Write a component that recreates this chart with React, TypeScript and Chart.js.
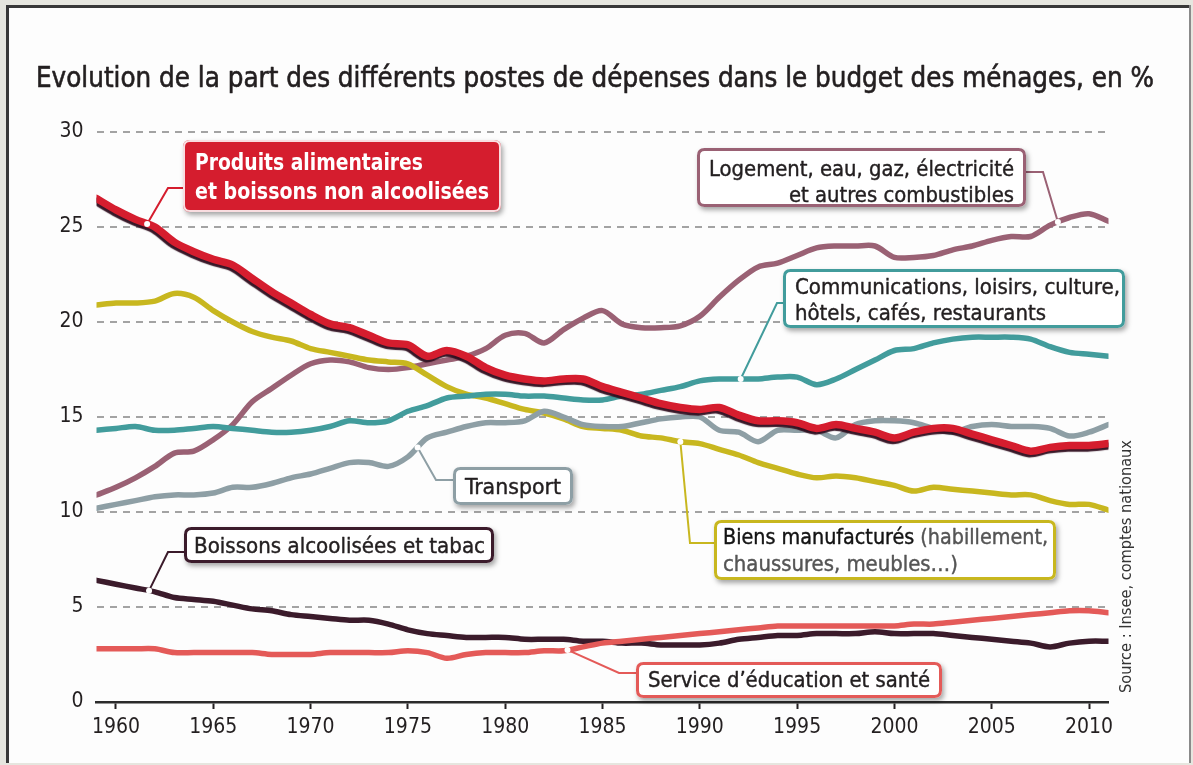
import React, { useEffect, useRef } from "react";
import { Chart, registerables } from "chart.js";

Chart.register(...registerables);

// ---------------- DATA ----------------
const YEARS = [
  1959, 1960, 1961, 1962, 1963, 1964, 1965, 1966, 1967, 1968, 1969, 1970, 1971, 1972, 1973, 1974, 1975, 1976,
  1977, 1978, 1979, 1980, 1981, 1982, 1983, 1984, 1985, 1986, 1987, 1988, 1989, 1990, 1991, 1992, 1993, 1994,
  1995, 1996, 1997, 1998, 1999, 2000, 2001, 2002, 2003, 2004, 2005, 2006, 2007, 2008, 2009, 2010, 2011,
];

const ALIMENTAIRES = [
  26.5, 25.9, 25.4, 25.0, 24.2, 23.7, 23.3, 23.0, 22.3, 21.6, 21.0, 20.4, 19.9, 19.7, 19.3, 18.9, 18.8, 18.2,
  18.5, 18.2, 17.6, 17.2, 17.0, 16.9, 17.0, 17.0, 16.6, 16.3, 16.0, 15.7, 15.5, 15.4, 15.5, 15.1, 14.8, 14.8,
  14.7, 14.4, 14.6, 14.4, 14.2, 13.9, 14.2, 14.4, 14.4, 14.1, 13.8, 13.5, 13.2, 13.4, 13.5, 13.5, 13.6,
];

const LOGEMENT = [
  10.9, 11.3, 11.8, 12.4, 13.1, 13.2, 13.8, 14.6, 15.8, 16.5, 17.2, 17.8, 18.0, 17.9, 17.6, 17.5, 17.6, 17.8,
  18.0, 18.2, 18.6, 19.3, 19.4, 18.9, 19.6, 20.2, 20.6, 19.9, 19.7, 19.7, 19.8, 20.3, 21.3, 22.2, 22.9, 23.1,
  23.5, 23.9, 24.0, 24.0, 24.0, 23.4, 23.4, 23.5, 23.8, 24.0, 24.3, 24.5, 24.5, 25.1, 25.5, 25.7, 25.3,
];

const COMMUNICATIONS = [
  14.3, 14.4, 14.5, 14.3, 14.3, 14.4, 14.5, 14.4, 14.3, 14.2, 14.2, 14.3, 14.5, 14.8, 14.7, 14.8, 15.3, 15.6,
  16.0, 16.1, 16.2, 16.2, 16.1, 16.1, 16.0, 15.9, 15.9, 16.1, 16.2, 16.4, 16.6, 16.9, 17.0, 17.0, 17.0, 17.1,
  17.1, 16.7, 17.0, 17.5, 18.0, 18.5, 18.6, 18.9, 19.1, 19.2, 19.2, 19.2, 19.1, 18.7, 18.4, 18.3, 18.2,
];

const TRANSPORT = [
  10.2, 10.4, 10.6, 10.8, 10.9, 10.9, 11.0, 11.3, 11.3, 11.5, 11.8, 12.0, 12.3, 12.6, 12.6, 12.4, 12.9, 13.9,
  14.2, 14.5, 14.7, 14.7, 14.8, 15.3, 15.0, 14.6, 14.5, 14.5, 14.7, 14.9, 15.0, 15.0, 14.3, 14.2, 13.7, 14.3,
  14.3, 14.3, 13.9, 14.6, 14.8, 14.8, 14.7, 14.4, 14.2, 14.5, 14.6, 14.5, 14.5, 14.4, 14.0, 14.2, 14.6,
];

const BIENS = [
  20.9, 21.0, 21.0, 21.1, 21.5, 21.3, 20.6, 20.0, 19.5, 19.2, 19.0, 18.6, 18.4, 18.2, 18.0, 17.9, 17.8, 17.2,
  16.6, 16.2, 16.0, 15.7, 15.4, 15.2, 14.9, 14.5, 14.4, 14.3, 14.0, 13.9, 13.7, 13.6, 13.3, 13.0, 12.6, 12.3,
  12.0, 11.8, 11.9, 11.8, 11.6, 11.4, 11.1, 11.3, 11.2, 11.1, 11.0, 10.9, 10.9, 10.6, 10.4, 10.4, 10.1,
];

const ALCOOL_TABAC = [
  6.4, 6.2, 6.0, 5.8, 5.5, 5.4, 5.3, 5.1, 4.9, 4.8, 4.6, 4.5, 4.4, 4.3, 4.3, 4.1, 3.8, 3.6,
  3.5, 3.4, 3.4, 3.4, 3.3, 3.3, 3.3, 3.2, 3.2, 3.1, 3.1, 3.0, 3.0, 3.0, 3.1, 3.3, 3.4, 3.5,
  3.5, 3.6, 3.6, 3.6, 3.7, 3.6, 3.6, 3.6, 3.5, 3.4, 3.3, 3.2, 3.1, 2.9, 3.1, 3.2, 3.2,
];

const EDUCATION_SANTE = [
  2.8, 2.8, 2.8, 2.8, 2.6, 2.6, 2.6, 2.6, 2.6, 2.5, 2.5, 2.5, 2.6, 2.6, 2.6, 2.6, 2.7, 2.6,
  2.3, 2.5, 2.6, 2.6, 2.6, 2.7, 2.7, 2.9, 3.1, 3.2, 3.3, 3.4, 3.5, 3.6, 3.7, 3.8, 3.9, 4.0,
  4.0, 4.0, 4.0, 4.0, 4.0, 4.0, 4.1, 4.1, 4.2, 4.3, 4.4, 4.5, 4.6, 4.7, 4.8, 4.8, 4.7,
];

const X_TICKS = [1960, 1965, 1970, 1975, 1980, 1985, 1990, 1995, 2000, 2005, 2010];
const Y_TICKS = [0, 5, 10, 15, 20, 25, 30];

const TITLE = "Evolution de la part des différents postes de dépenses dans le budget des ménages, en %";
const SOURCE = "Source : Insee, comptes nationaux";

// ---------------- STYLE ----------------
const C_RED = "#d51d2e";
const C_MAUVE = "#9a6174";
const C_TEAL = "#429c9c";
const C_GRAY = "#8e9fa5";
const C_YELLOW = "#c8b71f";
const C_DARK = "#3b1b2b";
const C_SALMON = "#e45a58";
const TXT = "#231f20";
const NARROW = "'Liberation Sans Narrow', 'DejaVu Sans Condensed', Roboto, 'Liberation Sans', sans-serif";

type Ann = {
  data: number[];
  color: string;
  anchorYear: number;
  box: [number, number, number, number];
  elbow: [number, number, number];
  lines: { text: string; parts?: { t: string; bold: boolean; color: string }[]; x: number; y: number; w: number; align?: "left" | "right" }[];
  fill?: string;
  textColor?: string;
  bold?: boolean;
  size: number;
};

const ANNOTATIONS: Ann[] = [
  {
    data: ALIMENTAIRES, color: C_RED, anchorYear: 1961.6,
    box: [183, 140, 318, 72], elbow: [183, 168, 188],
    fill: C_RED, textColor: "#ffffff", bold: true, size: 23,
    lines: [
      { text: "Produits alimentaires", x: 195, y: 170, w: 228 },
      { text: "et boissons non alcoolisées", x: 195, y: 199, w: 294 },
    ],
  },
  {
    data: LOGEMENT, color: C_MAUVE, anchorYear: 2008.4,
    box: [697, 148, 329, 59], elbow: [1026, 1043, 172], size: 21,
    lines: [
      { text: "Logement, eau, gaz, électricité", x: 1014, y: 176, w: 305, align: "right" },
      { text: "et autres combustibles", x: 1014, y: 202, w: 225, align: "right" },
    ],
  },
  {
    data: COMMUNICATIONS, color: C_TEAL, anchorYear: 1992.1,
    box: [783, 269, 342, 59], elbow: [783, 777, 303], size: 21,
    lines: [
      { text: "Communications, loisirs, culture,", x: 795, y: 294, w: 325 },
      { text: "hôtels, cafés, restaurants", x: 795, y: 320, w: 251 },
    ],
  },
  {
    data: TRANSPORT, color: C_GRAY, anchorYear: 1975.5,
    box: [453, 467, 120, 38], elbow: [453, 436, 480], size: 21,
    lines: [{ text: "Transport", x: 465, y: 494, w: 96 }],
  },
  {
    data: ALCOOL_TABAC, color: C_DARK, anchorYear: 1961.7,
    box: [184, 527, 310, 36], elbow: [184, 168, 552], size: 21,
    lines: [{ text: "Boissons alcoolisées et tabac", x: 194, y: 553, w: 291 }],
  },
  {
    data: BIENS, color: C_YELLOW, anchorYear: 1989.0,
    box: [714, 520, 342, 60], elbow: [714, 690, 543], size: 21,
    lines: [
      {
        text: "Biens manufacturés (habillement,", x: 723, y: 544, w: 325,
        parts: [
          { t: "Biens manufacturés", bold: false, color: "#141414" },
          { t: " (habillement,", bold: false, color: "#555555" },
        ],
      },
      { text: "chaussures, meubles…)", x: 723, y: 571, w: 235, parts: [{ t: "chaussures, meubles…)", bold: false, color: "#555555" }] },
    ],
  },
  {
    data: EDUCATION_SANTE, color: C_SALMON, anchorYear: 1983.2,
    box: [636, 662, 306, 36], elbow: [636, 619, 673], size: 21,
    lines: [{ text: "Service d’éducation et santé", x: 648, y: 687, w: 282 }],
  },
];

function interp(data: number[], year: number): number {
  const i = Math.max(0, Math.min(YEARS.length - 2, Math.floor(year - YEARS[0])));
  const t = year - YEARS[i];
  return data[i] + (data[i + 1] - data[i]) * t;
}

function roundRectPath(ctx: CanvasRenderingContext2D, x: number, y: number, w: number, h: number, r: number) {
  ctx.beginPath();
  ctx.moveTo(x + r, y);
  ctx.lineTo(x + w - r, y);
  ctx.quadraticCurveTo(x + w, y, x + w, y + r);
  ctx.lineTo(x + w, y + h - r);
  ctx.quadraticCurveTo(x + w, y + h, x + w - r, y + h);
  ctx.lineTo(x + r, y + h);
  ctx.quadraticCurveTo(x, y + h, x, y + h - r);
  ctx.lineTo(x, y + r);
  ctx.quadraticCurveTo(x, y, x + r, y);
  ctx.closePath();
}

function drawFitted(
  ctx: CanvasRenderingContext2D,
  parts: { t: string; font: string; color: string }[],
  x: number, y: number, targetW: number, align: "left" | "right" = "left", thicken = 0
) {
  ctx.save();
  let total = 0;
  const widths = parts.map((p) => { ctx.font = p.font; const w = ctx.measureText(p.t).width; total += w; return w; });
  const s = targetW / total;
  ctx.translate(align === "right" ? x - targetW : x, y);
  ctx.scale(s, 1);
  ctx.textBaseline = "alphabetic";
  ctx.textAlign = "left";
  let cx = 0;
  parts.forEach((p, i) => {
    ctx.font = p.font;
    ctx.fillStyle = p.color;
    ctx.fillText(p.t, cx, 0);
    if (thicken > 0) {
      ctx.strokeStyle = p.color;
      ctx.lineWidth = thicken;
      ctx.lineJoin = "round";
      ctx.strokeText(p.t, cx, 0);
    }
    cx += widths[i];
  });
  ctx.restore();
}

const framePlugin = {
  id: "frame",
  beforeDraw(chart: any) {
    const ctx: CanvasRenderingContext2D = chart.ctx;
    const W = chart.width, H = chart.height;
    ctx.save();
    ctx.fillStyle = "#e6e6df";
    ctx.fillRect(0, 0, W, H);
    ctx.fillStyle = "#fdfdfd";
    ctx.fillRect(6, 5, W - 10, H - 7);
    ctx.fillStyle = "#383838";
    ctx.fillRect(6, 5, W - 10, 3);
    ctx.fillRect(6, 5, 3, H - 7);
    ctx.fillStyle = "#8a8a8a";
    ctx.fillRect(W - 4, 5, 2, H - 7);
    ctx.fillStyle = "#e6e6df";
    ctx.fillRect(0, H - 2, W, 2);
    drawFitted(ctx, [{ t: TITLE, font: `29px ${NARROW}`, color: TXT }], 36, 87, 1118, "left", 0.6);
    ctx.restore();
  },
};

const shadowPlugin = {
  id: "redShadow",
  beforeDatasetDraw(chart: any, args: any) {
    if (args.index !== 0) return;
    const ctx = chart.ctx;
    ctx.save();
    ctx.shadowColor = "rgba(45,12,28,0.95)";
    ctx.shadowOffsetX = -1.5;
    ctx.shadowOffsetY = 2.5;
    ctx.shadowBlur = 1;
  },
  afterDatasetDraw(chart: any, args: any) {
    if (args.index !== 0) return;
    chart.ctx.restore();
  },
};

const annotationPlugin = {
  id: "annotations",
  afterDatasetsDraw(chart: any) {
    const ctx: CanvasRenderingContext2D = chart.ctx;
    const xs = chart.scales.x, ys = chart.scales.y;
    ANNOTATIONS.forEach((a) => {
      const px = xs.getPixelForValue(a.anchorYear);
      const py = ys.getPixelForValue(interp(a.data, a.anchorYear));
      const [bx, by, bw, bh] = a.box;
      ctx.save();
      ctx.strokeStyle = a.color;
      ctx.lineWidth = 2;
      ctx.beginPath();
      ctx.moveTo(a.elbow[0], a.elbow[2]);
      ctx.lineTo(a.elbow[1], a.elbow[2]);
      ctx.lineTo(px, py);
      ctx.stroke();
      ctx.beginPath();
      ctx.arc(px, py, 3, 0, Math.PI * 2);
      ctx.fillStyle = "#ffffff";
      ctx.fill();
      ctx.restore();
      ctx.save();
      ctx.shadowColor = "rgba(0,0,0,0.35)";
      ctx.shadowBlur = 5;
      ctx.shadowOffsetX = 2;
      ctx.shadowOffsetY = 3;
      roundRectPath(ctx, bx, by, bw, bh, 7);
      ctx.fillStyle = a.fill || "#ffffff";
      ctx.fill();
      ctx.restore();
      ctx.save();
      if (a.fill) {
        roundRectPath(ctx, bx + 1, by + 1, bw - 2, bh - 2, 6);
        ctx.strokeStyle = "rgba(255,255,255,0.85)";
        ctx.lineWidth = 2;
      } else {
        roundRectPath(ctx, bx + 1.5, by + 1.5, bw - 3, bh - 3, 6);
        ctx.strokeStyle = a.color;
        ctx.lineWidth = 3;
      }
      ctx.stroke();
      ctx.restore();
      a.lines.forEach((l) => {
        const parts = l.parts
          ? l.parts.map((p) => ({ t: p.t, font: `${p.bold ? "bold " : ""}${a.size}px ${NARROW}`, color: p.color }))
          : [{ t: l.text, font: `${a.bold ? "bold " : ""}${a.size}px ${NARROW}`, color: a.textColor || TXT }];
        drawFitted(ctx, parts, l.x, l.y, l.w, l.align || "left", a.bold ? 0 : 0.4);
      });
    });
    ctx.save();
    ctx.translate(1131, 693);
    ctx.rotate(-Math.PI / 2);
    drawFitted(ctx, [{ t: SOURCE, font: `15px ${NARROW}`, color: "#333333" }], 0, 0, 253);
    ctx.restore();
  },
};

function line(label: string, data: number[], color: string, width: number, order: number) {
  return {
    label,
    data: YEARS.map((y, i) => ({ x: y, y: data[i] })),
    borderColor: color,
    backgroundColor: color,
    borderWidth: width,
    pointRadius: 0,
    tension: 0.3,
    borderJoinStyle: "round" as const,
    borderCapStyle: "round" as const,
    fill: false,
    order,
  };
}

export default function App() {
  const ref = useRef<HTMLCanvasElement | null>(null);
  useEffect(() => {
    if (!ref.current) return;
    const chart = new Chart(ref.current, {
      type: "line",
      data: {
        datasets: [
          line("Produits alimentaires et boissons non alcoolisées", ALIMENTAIRES, C_RED, 7.5, 0),
          line("Service d'éducation et santé", EDUCATION_SANTE, C_SALMON, 5.5, 1),
          line("Boissons alcoolisées et tabac", ALCOOL_TABAC, C_DARK, 5.5, 2),
          line("Transport", TRANSPORT, C_GRAY, 5.5, 3),
          line("Communications, loisirs, culture, hôtels, cafés, restaurants", COMMUNICATIONS, C_TEAL, 5.5, 4),
          line("Biens manufacturés", BIENS, C_YELLOW, 5.5, 5),
          line("Logement, eau, gaz, électricité et autres combustibles", LOGEMENT, C_MAUVE, 5.5, 6),
        ],
      },
      options: {
        animation: false,
        responsive: false,
        devicePixelRatio: 1,
        layout: { padding: { left: 0, top: 132, right: 84.5, bottom: 0 } },
        plugins: { legend: { display: false }, title: { display: false }, tooltip: { enabled: false } },
        scales: {
          x: {
            type: "linear",
            min: 1959,
            max: 2011,
            afterBuildTicks: (s: any) => { s.ticks = X_TICKS.map((v) => ({ value: v })); },
            afterFit: (s: any) => { s.height = 63; },
            ticks: {
              callback: (v: any) => String(v),
              color: TXT,
              font: { family: NARROW, size: 21 },
              padding: 6,
              maxRotation: 0,
              autoSkip: false,
            },
            grid: { drawOnChartArea: false, drawTicks: true, tickLength: 7, tickColor: TXT, tickWidth: 2, color: TXT },
            border: { display: true, color: "#2b2b2b", width: 2.5 },
          },
          y: {
            min: 0,
            max: 30,
            afterBuildTicks: (s: any) => { s.ticks = Y_TICKS.map((v) => ({ value: v })); },
            afterFit: (s: any) => { s.width = 96.5; },
            ticks: { color: TXT, font: { family: NARROW, size: 21 }, padding: 13, callback: (v: any) => String(v) },
            grid: {
              drawTicks: false,
              lineWidth: 2,
              color: (c: any) => (c.tick && c.tick.value === 0 ? "rgba(0,0,0,0)" : "#a3a3a3"),
            },
            border: { display: false, dash: [7, 6] },
          },
        },
      },
      plugins: [framePlugin, shadowPlugin, annotationPlugin],
    });
    return () => chart.destroy();
  }, []);
  return (
    <div style={{ position: "absolute", left: 0, top: 0, width: 1193, height: 765 }}>
      <canvas ref={ref} width={1193} height={765} style={{ display: "block" }} />
    </div>
  );
}
